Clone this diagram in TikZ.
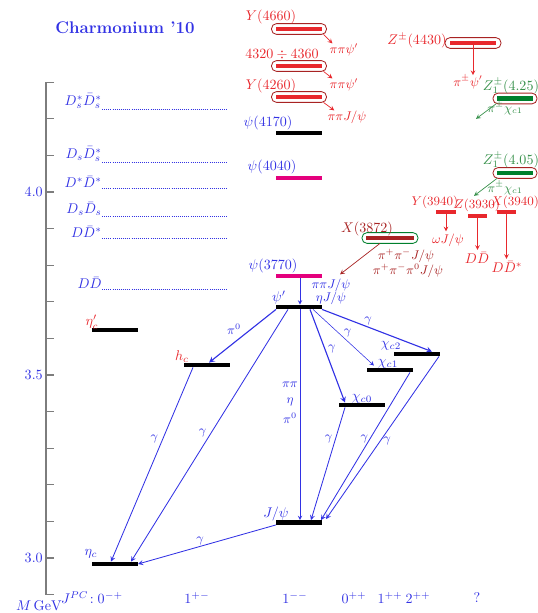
\documentclass[tikz,border=0pt]{standalone}
\usetikzlibrary{calc}
\usetikzlibrary{positioning}

\definecolor{lvlblue}{RGB}{50,50,228}
\definecolor{lvlred}{RGB}{232,40,45}
\definecolor{lvlmag}{RGB}{228,0,125}
\definecolor{lvlgreen}{RGB}{0,128,45}
\definecolor{txtgreen}{RGB}{55,145,75}
\definecolor{darkred}{RGB}{168,35,35}
\definecolor{axisgray}{RGB}{125,125,125}

\tikzset{
  lvl/.style={fill=black, minimum width=1.15cm, minimum height=0.12cm, inner sep=0pt, outer sep=0pt},
  small lvl/.style={lvl, fill=lvlred, minimum width=0.48cm},
  exo/.style={draw=darkred, rounded corners=3.6pt, minimum width=1.375cm, minimum height=0.27cm, inner sep=0pt, outer sep=0pt, line width=0.6pt},
  lbl/.style={inner sep=0pt, text=lvlblue},
  rlbl/.style={inner sep=0pt, text=lvlred},
  glbl/.style={inner sep=0pt, text=txtgreen},
  dlbl/.style={inner sep=0pt, text=darkred},
  trans/.style={->, >=stealth, draw=lvlblue, line width=0.6pt},
  thr/.style={draw=lvlblue, densely dotted, line width=0.5pt},
}

\begin{document}
\begin{tikzpicture}[x=0.025cm, y=-0.025cm]
  \useasboundingbox (0,0) rectangle (538,613);

  % mass axis
  \draw[axisgray, line width=0.8pt] (54,82.2) -- (46,82.2) -- (46,594.6) -- (54,594.6);
  \foreach \i in {1,...,13}
    \draw[axisgray, line width=0.8pt] (46,{594.6-36.6*\i}) -- ++(8,0);
  \node[lbl, anchor=east] (m30) at (43,558) {3.0};
  \node[lbl, anchor=east] (m35) at (43,375) {3.5};
  \node[lbl, anchor=east] (m40) at (43,192) {4.0};

  \node[lbl, font=\large\bfseries] (title) at (125,28) {Charmonium '10};

  % open charm thresholds
  \foreach \y/\name/\txt in {109/dsdsss/{D_s^*\bar D_s^*}, 162/dsdss/{D_s\bar D_s^*}, 188/ddss/{D^*\bar D^*},
                             216/dsds/{D_s\bar D_s}, 238/dds/{D\bar D^*}, 289/dd/{D\bar D}} {
    \node[lbl, anchor=south east] (\name) at (102,\y) {$\txt$};
    \draw[thr] (\name.south east) -- ++(126,0);
  }

  % charmonium levels
  \node[lvl] (etac)  at (115,564) {};
  \node[lvl] (etacp) at (115,330) {};
  \node[lvl] (hc)    at (207,365) {};
  \node[lvl] (jpsi)  at (299,522.5) {};
  \node[lvl] (chic0) at (362,405) {};
  \node[lvl] (chic1) at (390,370) {};
  \node[lvl] (chic2) at (417,354) {};
  \node[lvl] (psip)  at (299,307) {};
  \node[lvl, fill=lvlmag] (psi3770) at (299,276) {};
  \node[lvl, fill=lvlmag] (psi4040) at (299,178) {};
  \node[lvl] (psi4170) at (299,133) {};

  % exotic states
  \foreach \y/\name in {29/Y4660, 66/Y4340, 97/Y4260} {
    \node[exo] (\name box) at (299,\y) {};
    \node[lvl, fill=lvlred] (\name) at (299,\y) {};
  }
  \node[exo, minimum width=1.4cm] (Z4430box) at (473,43) {};
  \node[lvl, fill=lvlred] (Z4430) at (473,43) {};
  \node[exo, minimum width=1.1cm] (Z4250box) at (515,98.5) {};
  \node[lvl, fill=lvlgreen, minimum width=0.92cm] (Z4250) at (515,98.5) {};
  \node[exo, minimum width=1.1cm] (Z4050box) at (515,173) {};
  \node[lvl, fill=lvlgreen, minimum width=0.92cm] (Z4050) at (515,173) {};
  \node[exo, draw=lvlgreen, minimum width=1.4cm] (X3872box) at (390,238) {};
  \node[lvl, fill=darkred, minimum width=1.2cm] (X3872) at (390,238) {};
  \node[small lvl] (Y3940) at (446,212) {};
  \node[small lvl] (Z3930) at (477.5,216) {};
  \node[small lvl] (X3940) at (506.5,212) {};

  % level names
  \node[lbl] (Lpsi4170) at (268,123) {$\psi(4170)$};
  \node[lbl] (Lpsi4040) at (272,167) {$\psi(4040)$};
  \node[lbl] (Lpsi3770) at (273,266) {$\psi(3770)$};
  \node[lbl] (Lpsip) at (279,298) {$\psi'$};
  \node[lbl] (Ljpsi) at (276,514) {$J/\psi$};
  \node[lbl] (Lchic0) at (362,399) {$\chi_{c0}$};
  \node[lbl] (Lchic1) at (388,364) {$\chi_{c1}$};
  \node[lbl] (Lchic2) at (391,346) {$\chi_{c2}$};
  \node[lbl] (Letac) at (91,554) {$\eta_c$};
  \node[rlbl] (Letacp) at (92,322) {$\eta_c'$};
  \node[rlbl] (Lhc) at (182,357) {$h_c$};
  \node[rlbl] (LY4660) at (271,17) {$Y(4660)$};
  \node[rlbl] (LY4340) at (282,55) {$4320\div4360$};
  \node[rlbl] (LY4260) at (271,86) {$Y(4260)$};
  \node[rlbl] (LZ4430) at (417,41) {$Z^{\pm}(4430)$};
  \node[glbl] (LZ4250) at (511,86) {$Z_1^{\pm}(4.25)$};
  \node[glbl] (LZ4050) at (511,160) {$Z_1^{\pm}(4.05)$};
  \node[rlbl, font=\small] (LY3940) at (435,202) {$Y(3940)$};
  \node[rlbl, font=\small] (LZ3930) at (477,205) {$Z(3930)$};
  \node[rlbl, font=\small] (LX3940) at (515,202) {$X(3940)$};
  \node[dlbl] (LX3872) at (367,229) {$X(3872)$};

  % decay products
  \node[rlbl, font=\small] (pY4660) at (344,50) {$\pi\pi\psi'$};
  \node[rlbl, font=\small] (pY4340) at (344,85) {$\pi\pi\psi'$};
  \node[rlbl, font=\small] (pY4260) at (347,117) {$\pi\pi J/\psi$};
  \node[rlbl, font=\small] (pZ4430) at (468,82) {$\pi^{\pm}\psi'$};
  \node[glbl, font=\small] (pZ4250) at (505,108) {$\pi^{\pm}\chi_{c1}$};
  \node[glbl, font=\small] (pZ4050) at (505,188) {$\pi^{\pm}\chi_{c1}$};
  \node[rlbl, font=\small] (pY3940) at (448,240) {$\omega J/\psi$};
  \node[rlbl] (pZ3930) at (477,258) {$D\bar D$};
  \node[rlbl] (pX3940) at (507,267) {$D\bar D^*$};
  \node[dlbl, font=\small] (pX3872a) at (406,256) {$\pi^+\pi^-J/\psi$};
  \node[dlbl, font=\small] (pX3872b) at (408,271) {$\pi^+\pi^-\pi^0J/\psi$};
  \node[lbl, font=\small] (ppjpsi) at (331,285) {$\pi\pi J/\psi$};
  \node[lbl, font=\small] (etajpsi) at (331,298) {$\eta J/\psi$};

  % exotic decays
  \draw[->, >=stealth, lvlred, line width=0.5pt] ($(Y4660box.south east)+(-3,0)$) -- ($(pY4660.north west)+(3,0)$);
  \draw[->, >=stealth, lvlred, line width=0.5pt] ($(Y4340box.south east)+(-3,0)$) -- ($(pY4340.north west)+(3,0)$);
  \draw[->, >=stealth, lvlred, line width=0.5pt] ($(Y4260box.south east)+(-3,0)$) -- ($(pY4260.north west)+(7,0)$);
  \draw[->, >=stealth, lvlred, line width=0.5pt] (Z4430.south) -- (Z4430.south |- pZ4430.north);
  \draw[->, >=stealth, lvlred, line width=0.5pt] (Y3940.south) -- ($(Y3940.south |- pY3940.north)+(0,-2)$);
  \draw[->, >=stealth, lvlred, line width=0.5pt] (Z3930.south) -- ($(Z3930.south |- pZ3930.north)+(0,-2)$);
  \draw[->, >=stealth, lvlred, line width=0.5pt] (X3940.south) -- ($(X3940.south |- pX3940.north)+(0,-2)$);
  \draw[->, >=stealth, txtgreen, line width=0.5pt] ($(Z4250box.south west)+(3,0)$) -- ($(pZ4250.south west)+(-11,4)$);
  \draw[->, >=stealth, txtgreen, line width=0.5pt] ($(Z4050box.south west)+(4,0)$) -- ($(pZ4050.south west)+(-13,1)$);
  \draw[->, >=stealth, darkred, line width=0.5pt] ($(X3872box.south)+(-10,0)$) -- ($(ppjpsi.north)+(9,-4)$);

  % charmonium transitions
  \draw[trans, line width=0.4pt] ($(psi3770.south)+(1,0)$) -- ($(psip.north)+(1,0)$);
  \draw[trans, line width=0.8pt] (psip.south west) -- node[lbl, font=\small, above left=1pt] (t1) {$\pi^0$} ($(hc.north)+(2,0)$);
  \draw[trans] ($(psip.south west)+(12,0)$) -- node[lbl, font=\small, pos=0.49, left=3pt] (t2) {$\gamma$} ($(etac.north)+(16,0)$);
  \draw[trans] ($(hc.south west)+(9,0)$) -- node[lbl, font=\small, pos=0.37, left=3pt] (t3) {$\gamma$} ($(etac.north)+(-4,0)$);
  \draw[trans] (jpsi.south west) -- node[lbl, font=\small, pos=0.55, above=1pt] (t4) {$\gamma$} (etac.east);
  \draw[trans, line width=0.4pt] ($(psip.south)+(1,0)$) -- ($(jpsi.north)+(1,0)$);
  \node[lbl, font=\small] (t5) at (290,385) {$\pi\pi$};
  \node[lbl, font=\small] (t6) at (290,402) {$\eta$};
  \node[lbl, font=\small] (t7) at (290,418) {$\pi^0$};
  \draw[trans, line width=0.8pt] ($(psip.south)+(11,0)$) -- node[lbl, font=\small, pos=0.42, right=2pt] (t8) {$\gamma$} ($(chic0.north west)+(6,0)$);
  \draw[trans, line width=0.4pt] ($(psip.south)+(14,0)$) -- node[lbl, font=\small, pos=0.5, above right=0pt] (t9) {$\gamma$} ($(chic1.north west)+(7,-2)$);
  \draw[trans, line width=0.8pt] (psip.south east) -- node[lbl, font=\small, pos=0.42, above=1pt] (t10) {$\gamma$} ($(chic2.north east)+(-8,0)$);
  \draw[trans] ($(chic0.south west)+(6,0)$) -- node[lbl, font=\small, pos=0.28, left=2pt] (t11) {$\gamma$} ($(jpsi.north)+(12,0)$);
  \draw[trans] ($(chic1.south east)+(-3,0)$) -- node[lbl, font=\small, pos=0.45, left=1pt] (t12) {$\gamma$} ($(jpsi.north east)+(-1,0)$);
  \draw[trans] ($(chic2.south east)+(-1,0)$) -- node[lbl, font=\small, pos=0.52, right=2pt] (t13) {$\gamma$} ($(jpsi.north east)+(4,-1)$);

  % quantum numbers
  \node[lbl] (mgev) at (39,606) {$M\,\mathrm{GeV}$};
  \node[lbl] (jpc0) at (92,598) {$J^{PC}\!:0^{-+}$};
  \node[lbl] (jpc1) at (197,598) {$1^{+-}$};
  \node[lbl] (jpc2) at (295,598) {$1^{--}$};
  \node[lbl] (jpc3) at (354,598) {$0^{++}$};
  \node[lbl] (jpc4) at (390,598) {$1^{++}$};
  \node[lbl] (jpc5) at (418,598) {$2^{++}$};
  \node[lbl] (jpc6) at (477,598) {?};
\end{tikzpicture}
\end{document}
